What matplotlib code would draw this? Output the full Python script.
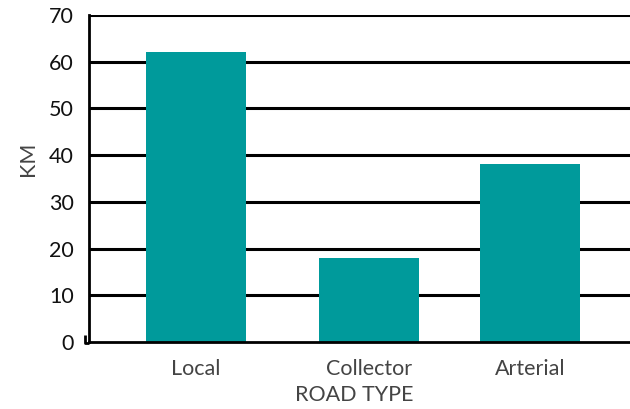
import matplotlib
matplotlib.use("Agg")
import matplotlib.pyplot as plt

categories = ["Local", "Collector", "Arterial"]
km = [62, 18, 38]
y_ticks = [0, 10, 20, 30, 40, 50, 60, 70]

# horizontal placement of the bars (axis runs 0..10)
bar_pos = [1.98, 5.18, 8.15]
bar_width = 1.85

plt.rcParams["font.family"] = ["Lato", "DejaVu Sans"]

fig = plt.figure(figsize=(6.3, 4.09), dpi=100)
ax = fig.add_axes([89 / 630, 1 - 342 / 409, 541 / 630, (342 - 15) / 409])

ax.set_xlim(0, 10)
ax.set_ylim(0, 70)

for y in y_ticks[1:]:
    ax.axhline(y, color="black", linewidth=2.2, zorder=1)

ax.bar(bar_pos, km, width=bar_width, color="#009a9b", zorder=2)

for side in ("top", "right"):
    ax.spines[side].set_visible(False)
ax.spines["left"].set_linewidth(2)
ax.spines["bottom"].set_linewidth(2)
ax.spines["left"].set_zorder(3)
ax.spines["bottom"].set_zorder(3)

# small hook at the lower-left corner
ax.plot([-0.07, -0.07, 0], [1.6, -0.3, -0.3], color="black", linewidth=2,
        clip_on=False, zorder=3, solid_capstyle="butt")

ax.set_yticks(y_ticks)
ax.set_yticklabels([str(v) for v in y_ticks], fontsize=15.5, color="#111111")
ax.set_xticks(bar_pos)
ax.set_xticklabels(categories, fontsize=15.5, color="#444444")
ax.tick_params(axis="both", length=0)
ax.tick_params(axis="y", pad=11)
ax.tick_params(axis="x", pad=12)

ax.set_ylabel("KM", fontsize=15.5, color="#444444")
ax.yaxis.set_label_coords(-0.095, 0.56)
ax.set_xlabel("ROAD TYPE", fontsize=15.5, color="#444444")
ax.xaxis.set_label_coords(0.49, -0.13)

fig.savefig("out.png", dpi=100)
